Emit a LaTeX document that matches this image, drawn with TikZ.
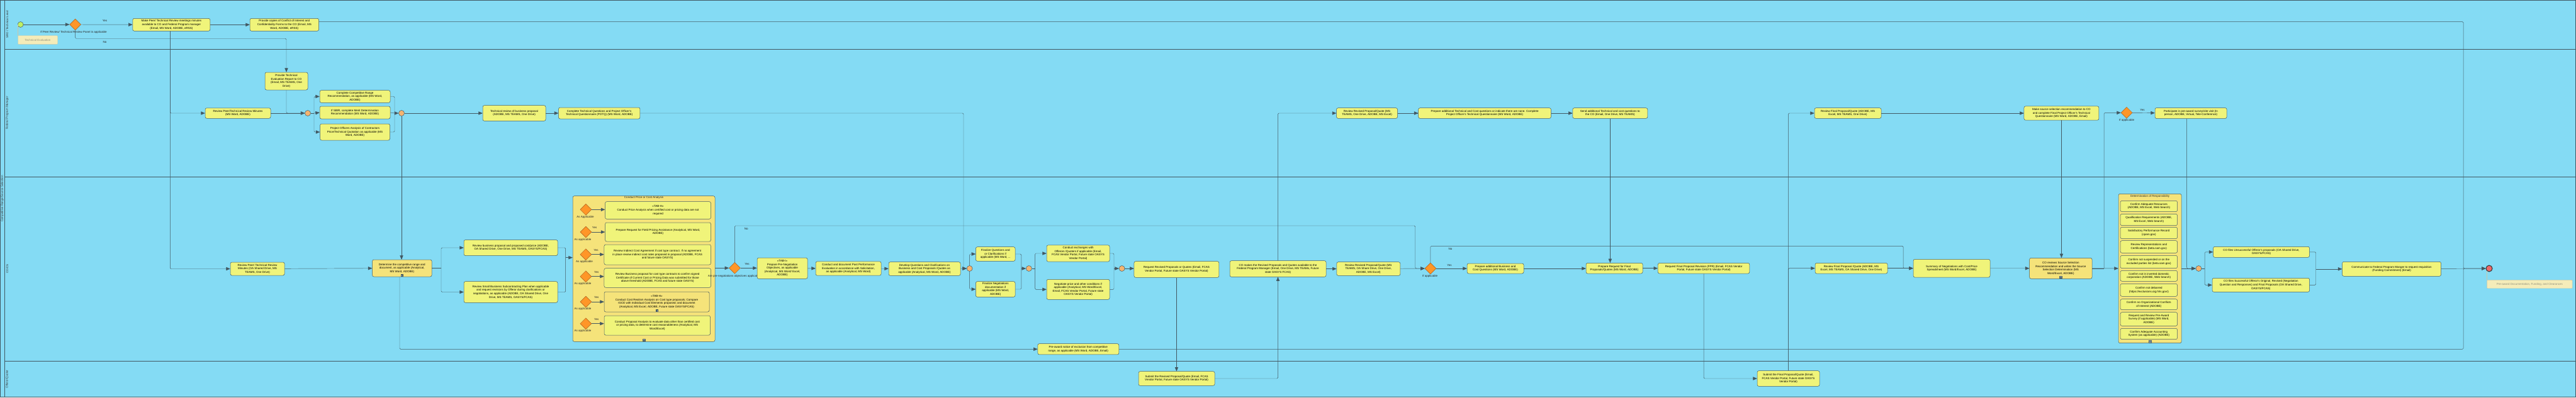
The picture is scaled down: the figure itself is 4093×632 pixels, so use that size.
\documentclass[tikz,border=0pt]{standalone}
\usepackage{fontspec}
\setmainfont{Liberation Sans}
\usetikzlibrary{arrows}
\usetikzlibrary{shapes.geometric}

\definecolor{lanebg}{RGB}{132,219,244}
\definecolor{edge}{RGB}{66,88,98}
\definecolor{taskfill}{RGB}{240,244,122}
\definecolor{subfill}{RGB}{245,227,122}
\definecolor{gatefill}{RGB}{255,150,40}
\definecolor{gateedge}{RGB}{170,95,30}
\definecolor{pgfill}{RGB}{245,180,112}
\definecolor{startfill}{RGB}{190,240,100}
\definecolor{endfill}{RGB}{240,105,105}
\definecolor{annfill}{RGB}{245,236,185}
\definecolor{annedge}{RGB}{200,200,170}
\definecolor{anntext}{RGB}{145,145,125}

\newcommand{\bpmnfont}{\fontsize{4.5}{5.6}\selectfont}

\tikzset{
  task/.style={draw=edge, line width=0.5pt, fill=taskfill, rounded corners=2.5pt, align=center, inner sep=0.5pt},
  subproc/.style={task, fill=subfill},
  sz/.style 2 args={minimum width=#1pt, minimum height=#2pt},
  xgate/.style={diamond, draw=gateedge, fill=gatefill, line width=0.5pt, minimum width=18pt, minimum height=18pt, inner sep=0pt},
  pgate/.style={circle, draw=edge, fill=pgfill, line width=0.5pt, minimum size=9pt, inner sep=0pt},
  startev/.style={circle, draw=edge, fill=startfill, line width=0.5pt, minimum size=9pt, inner sep=0pt},
  endev/.style={circle, draw=black!80, fill=endfill, line width=1pt, minimum size=10pt, inner sep=0pt},
  ann/.style={draw=annedge, fill=annfill, text=anntext, rounded corners=1pt, inner sep=0.5pt},
  lbl/.style={inner sep=0pt, text=black!85},
  lanelbl/.style={inner sep=0pt, rotate=90, text=black!80},
  spmark/.style={draw=edge, line width=0.3pt, fill=white, minimum size=3.6pt, inner sep=0pt, anchor=south, yshift=0.8pt,
    path picture={\draw[edge, line width=0.3pt] (path picture bounding box.north) -- (path picture bounding box.south)
      (path picture bounding box.west) -- (path picture bounding box.east);}},
  flow/.style={draw=edge, line width=0.45pt, -triangle 45, rounded corners=1.5pt},
  line/.style={draw=edge, line width=0.45pt, rounded corners=1.5pt}
}

\begin{document}
\begin{tikzpicture}[x=1pt, y=-1pt, font=\bpmnfont]

\useasboundingbox (0,0) rectangle (4093,632);

% Pool and lanes
\fill [lanebg] (0,0) rectangle (4093,632);
\draw [edge, line width=0.8pt] (0.4,0.4) rectangle (4092.6,631.6);
\draw [edge, line width=0.6pt] (7.6,0.4)--(7.6,631.6);
\draw [edge, line width=0.6pt] (7.6,78)--(4092.6,78);
\draw [edge, line width=0.6pt] (7.6,281)--(4092.6,281);
\draw [edge, line width=0.6pt] (7.6,574)--(4092.6,574);

\node [lanelbl] (lpool) at (3.8,316) {Competitive Range/Source Selection};
\node [lanelbl] (lsro) at (11.5,39) {SRO / Technical Lead};
\node [lanelbl] (lfpm) at (11.5,179.5) {Federal Program Manager};
\node [lanelbl] (lcocs) at (11.5,427.5) {CO/CS};
\node [lanelbl] (loff) at (11.5,603) {Offeror/Quoter};

% SRO / Technical Lead
\node [startev] (start) at (32.6,39) {};
\node [ann, sz={63}{13.6}] (evalnote) at (60,63.5) {Technical Evaluation};
\node [xgate] (gwpanel) at (119.6,39) {};
\node [lbl] (gwpanellbl) at (117,51) {If Peer Review/ Technical Review Panel is applicable};
\node [lbl] (yespanel) at (166.5,32.5) {Yes};
\node [lbl] (nopanel) at (166.5,67) {No};
\node [task, sz={123}{20}] (minutes) at (272.3,39.3) {Make Peer/ Technical Review meetings minutes\\available to CO and Federal Program manager\\(Email, MS Word, ADOBE, eRSS)};
\node [task, sz={109.5}{20}] (copies) at (451.8,39.3) {Provide copies of Conflict of Interest and\\Confidentiality Forms to the CO (Email, MS\\Word, ADOBE, eRSS)};

% Federal Program Manager
\node [task, sz={68}{28}] (evalrep) at (455,129) {Provide Technical\\Evaluation Report to CO\\(Email, MS TEAMS, One\\Drive)};
\node [task, sz={104}{16.5}] (revmin2) at (378,180) {Review Peer/Technical Review Minutes\\(MS Word, ADOBE)};
\node [pgate] (pg1) at (489,180) {};
\node [task, sz={112}{19.6}] (comprange) at (564,153.5) {Complete Competitive Range\\Recommendation, as applicable (MS Word,\\ADOBE)};
\node [task, sz={112}{20}] (sbir) at (564,179) {If SBIR, complete Merit Determination\\Recommendation (MS Word, ADOBE)};
\node [task, sz={111}{26}] (poanalysis) at (564,210) {Project Officers Analysis of Contractors\\Price/Technical Quotation as applicable (MS\\Word, ADOBE)};
\node [pgate] (pg2) at (638,180) {};
\node [task, sz={100}{24.6}] (techrev) at (817,180) {Technical review of business proposal\\(ADOBE, MS TEAMS, One Drive)};
\node [task, sz={129.5}{18}] (potq) at (952.2,180) {Complete Technical Questions and Project Officer's\\Technical Questionnaire (POTQ) (MS Word, ADOBE)};
\node [task, sz={97}{16.6}] (revrev2) at (2172,180) {Review Revised Proposal/Quote (MS\\TEAMS, One Drive, ADOBE, MS Excel)};
\node [task, sz={210.7}{16.6}] (addq2) at (2359,180) {Prepare additional Technical and Cost questions or indicate there are none. Complete\\Project Officer's Technical Questionnaire (MS Word, ADOBE)};
\node [task, sz={119}{16.6}] (sendq) at (2558.3,180) {Send additional Technical and cost questions to\\the CO (Email, One Drive, MS TEAMS)};
\node [task, sz={106}{16.6}] (revfin2) at (2936,180) {Review Final Proposal/Quote (ADOBE, MS\\Excel, MS TEAMS, One Drive)};
\node [task, sz={119}{22.3}] (ssrec) at (3275.4,180) {Make source selection recommendation to CO\\and complete Final Project Officer's Technical\\Questionnaire (MS Word, ADOBE, Email)};
\node [xgate] (gwsurvey) at (3379,179.3) {};
\node [lbl] (gwsurveylbl) at (3379,191.5) {If applicable};
\node [lbl] (yessurvey) at (3404,175) {Yes};
\node [task, sz={114}{17}] (survey) at (3481,180) {Participate in pre-award survey/site visit (In\\person, ADOBE, Virtual, Tele-Conference)};

% CO/CS
\node [task, sz={86}{21}] (revmin3) at (409,427.5) {Review Peer/ Technical Review\\Minutes (OA Shared Drive, MS\\TEAMS, One Drive)};
\node [subproc, sz={94.5}{27}] (detrange) at (638.8,426.5) {Determine the competitive range and\\document, as applicable (Analytical,\\MS Word, ADOBE)};
\node [spmark] (detrangem) at (detrange.south) {};
\node [task, sz={149}{25}] (revbus) at (811.5,394) {Review business proposal and proposed cost/price (ADOBE,\\OA Shared Drive, One Drive, MS TEAMS, OASYS/FCAS)};
\node [task, sz={149}{33.6}] (revsb) at (811.5,464.5) {Review Small Business Subcontracting Plan when applicable\\and request revisions by Offeror during clarifications or\\negotiations, as applicable (ADOBE, OA Shared Drive, One\\Drive, MS TEAMS, OASYS/FCAS)};

% Conduct Price or Cost Analysis
\node [subproc, sz={226}{231.6}] (pcost) at (1023,427.5) {};
\node [lbl, anchor=north] (pcosttitle) at ([yshift=-1pt]pcost.north) {Conduct Price or Cost Analysis};
\node [spmark] (pcostm) at (pcost.south) {};
\node [xgate] (pcgw1) at (930.8,333.3) {};
\node [xgate] (pcgw2) at (930.8,369) {};
\node [xgate] (pcgw3) at (930.8,404.7) {};
\node [xgate] (pcgw4) at (930.8,439.7) {};
\node [xgate] (pcgw5) at (930.8,480) {};
\node [xgate] (pcgw6) at (930.8,514.7) {};
\node [lbl] (pclbl1) at (930,345) {As Applicable};
\node [lbl] (pclbl2) at (926,381) {As applicable};
\node [lbl] (pclbl3) at (928.6,416.5) {As applicable};
\node [lbl] (pclbl4) at (926,451.3) {As applicable};
\node [lbl] (pclbl5) at (926,491.8) {As applicable};
\node [lbl] (pclbl6) at (926,526.8) {As applicable};
\node [lbl] (pcyes2) at (944.6,362) {Yes};
\node [lbl] (pcyes3) at (947,398) {Yes};
\node [lbl] (pcyes4) at (947.8,432.5) {Yes};
\node [lbl] (pcyes5) at (947.8,473) {Yes};
\node [lbl] (pcyes6) at (947.8,508) {Yes};
\node [task, sz={168}{27.6}] (pc1) at (1045.5,334.5) {<<TAB-H>>\\Conduct Price Analysis when certified cost or pricing data are not\\required};
\node [task, sz={168}{30}] (pc2) at (1045.5,369) {Prepare Request for Field Pricing Assistance (Analytical, MS Word,\\ADOBE)};
\node [task, sz={169.5}{32}] (pc3) at (1044.7,405) {Review Indirect Cost Agreement if cost type contract. If no agreement\\in place review indirect cost rates proposed in proposal (ADOBE, FCAS\\and future state OASYS)};
\node [task, sz={169.5}{30.6}] (pc4) at (1044.7,442) {Review Business proposal for cost type contracts to confirm signed\\Certificate of Current Cost or Pricing Data was submitted for those\\above threshold (ADOBE, FCAS and future state OASYS)};
\node [subproc, sz={167}{32}] (pc5) at (1043.5,480) {<<TAB-H>>\\Conduct Cost Realism Analysis on Cost type proposals; Compare\\IGCE with Individual Cost Elements proposed; and document\\(Analytical, MS Excel, ADOBE, Future state OASYS/FCAS)};
\node [spmark] (pc5m) at (pc5.south) {};
\node [task, sz={168.6}{31}] (pc6) at (1044.3,517.5) {Conduct Proposal Analysis to evaluate data other than certified cost\\or pricing data, to determine cost reasonableness (Analytical, MS\\Word/Excel)};

\node [xgate] (gwpreneg) at (1167.4,426.3) {};
\node [lbl] (gwprereglbl) at (1166.5,439) {Are pre-negotiations objectives applicable};
\node [lbl] (yespreneg) at (1187,420) {Yes};
\node [lbl] (nopreneg) at (1185.7,364) {No};
\node [task, sz={80}{33.3}] (preneg) at (1243,426.7) {<<TAB-I>>\\Prepare Pre-Negotiation\\Objectives, as applicable\\(Analytical, MS Word/ Excel,\\ADOBE)};
\node [task, sz={104}{22.3}] (pastperf) at (1348,427) {Conduct and document Past Performance\\Evaluation in accordance with Solicitation,\\as applicable (Analytical, MS Word)};
\node [task, sz={114}{21.6}] (devq) at (1469,427.5) {Develop Questions and Clarifications on\\Business and Cost Proposals /Quotes as\\applicable (Analytical, MS Word, ADOBE)};
\node [pgate] (pg3) at (1540.6,427) {};
\node [task, sz={62.6}{22.6}] (finq) at (1581.7,404) {Finalize Questions and\\or Clarifications if\\applicable (MS Word, ...};
\node [task, sz={62.6}{24.6}] (finneg) at (1581.7,460) {Finalize Negotiations\\documentation if\\applicable (MS Word,\\ADOBE)};
\node [pgate] (pg4) at (1634.8,427) {};
\node [task, sz={100}{26.3}] (exch) at (1713,403) {Conduct exchanges with\\Offerors /Quoters if applicable (Email,\\FCAS Vendor Portal, Future state OASYS\\Vendor Portal)};
\node [task, sz={100}{32}] (negot) at (1713,460.3) {Negotiate price and other conditions if\\applicable (Analytical, MS Word/Excel,\\Email, FCAS Vendor Portal, Future state\\OASYS Vendor Portal)};
\node [pgate] (pg5) at (1782.6,427) {};
\node [task, sz={135}{25.6}] (reqrev) at (1869.4,428.5) {Request Revised Proposals or Quotes (Email, FCAS\\Vendor Portal, Future state OASYS Vendor Portal)};
\node [task, sz={153}{25.6}] (comakes) at (2030.5,427.5) {CO makes the Revised Proposals and Quotes available to the\\Federal Program Manager (Email, One Drive, MS TEAMs, Future\\state OASYS FCAS)};
\node [task, sz={129}{17.3}] (preaward) at (1713.3,555.3) {Pre-award notice of exclusion from competitive\\range, as applicable (MS Word, ADOBE, Email)};
\node [task, sz={101}{21.6}] (revrev3) at (2174.3,427.5) {Review Revised Proposal/Quote (MS\\TEAMS, OA Share Drive, One Drive,\\ADOBE, MS Excel)};
\node [xgate] (gwaddq) at (2272.8,427) {};
\node [lbl] (gwaddqlbl) at (2272,439.5) {If applicable};
\node [lbl] (yesaddq) at (2303,422) {Yes};
\node [lbl] (noaddq) at (2304.5,396) {No};
\node [task, sz={90}{16}] (addbus) at (2376,427) {Prepare additional Business and\\Cost Questions (MS Word, ADOBE)};
\node [task, sz={90}{16.7}] (reqfin) at (2565,426.7) {Prepare Request for Final\\Proposals/Quotes (MS Word, ADOBE)};
\node [task, sz={145.6}{16.7}] (reqfpr) at (2707,426.7) {Request Final Proposal Revision (FPR) (Email, FCAS Vendor\\Portal, Future state OASYS Vendor Portal)};
\node [task, sz={115}{16.7}] (revfin3) at (2941.5,426.7) {Review Final Proposal /Quote (ADOBE, MS\\Excel, MS TEAMS, OA Shared Drive, One Drive)};
\node [task, sz={122}{28.7}] (summary) at (3101,426.7) {Summary of Negotiations with Cost/Price\\Spreadsheet (MS Word/Excel, ADOBE)};
\node [subproc, sz={99.4}{33}] (coreview) at (3274.3,426.8) {CO reviews Source Selection\\Recommendation and writes the Source\\Selection Determination (MS\\Word/Excel, ADOBE)};
\node [spmark] (coreviewm) at (coreview.south) {};

% Determination of Responsibility
\node [subproc, sz={100}{237.4}] (resp) at (3416,427) {};
\node [lbl, anchor=north] (resptitle) at ([yshift=-1.5pt]resp.north) {Determination of Responsibility};
\node [spmark] (respm) at (resp.south) {};
\node [task, sz={90.5}{17.4}] (resp1) at (3414.3,328) {Confirm Adequate Resources\\(ADOBE, MS Excel, Web Search)};
\node [task, sz={90.5}{18.4}] (resp2) at (3414.3,349.5) {Qualification Requirements (ADOBE,\\MS Excel, Web Search)};
\node [task, sz={90.5}{18.4}] (resp3) at (3414.3,370.5) {Satisfactory Performance Record\\(cpars.gov)};
\node [task, sz={90.5}{19.6}] (resp4) at (3414.3,392.5) {Review Representations and\\Certifications (beta.sam.gov)};
\node [task, sz={90.5}{20.4}] (resp5) at (3414.3,416.5) {Confirm not suspended or on the\\excluded parties list (beta.sam.gov)};
\node [task, sz={90.5}{17}] (resp6) at (3414.3,438.8) {Confirm not in inverted domestic\\corporation (ADOBE, Web Search)};
\node [task, sz={90.5}{20}] (resp7) at (3414.3,461.3) {Confirm not debarred\\(https://exclusions.oig.hhs.gov/)};
\node [task, sz={90.5}{17}] (resp8) at (3414.3,484.2) {Confirm no Organizational Conflicts\\of Interest (ADOBE)};
\node [task, sz={90.5}{21.6}] (resp9) at (3414.3,507.5) {Request and Review Pre-Award\\Survey (if applicable) (MS Word,\\ADOBE)};
\node [task, sz={90.5}{17.4}] (resp10) at (3414.3,531) {Confirm Adequate Accounting\\System (as applicable) (ADOBE)};

\node [pgate] (pg6) at (3493.4,427) {};
\node [task, sz={153}{17}] (unsucc) at (3593,400.8) {CO files Unsuccessful Offeror's proposals (OA Shared Drive,\\OASYS/FCAS)};
\node [task, sz={154.6}{22}] (succ) at (3592.3,453.3) {CO files Successful Offeror's Original, Revised (Negotiation\\Question and Responses) and Final Proposals (OA Shared Drive,\\OASYS/FCAS)};
\node [task, sz={157}{23}] (commun) at (3800,427.8) {Communicate to Federal Program Manger to request requisition\\(Funding Commitment) (Email)};
\node [endev] (end) at (3955,427) {};
\node [ann, sz={135.4}{13.4}] (closenote) at (4019.3,452) {Pre-award Documentation, Funding, and Clearances};

% Offeror/Quoter
\node [task, sz={121}{22.6}] (subrev) at (1869.5,602) {Submit the Revised Proposal/Quote (Email, FCAS\\Vendor Portal, Future state OASYS Vendor Portal)};
\node [task, sz={99}{24.6}] (subfin) at (2841.5,602) {Submit the Final Proposal/Quote (Email,\\FCAS Vendor Portal, Future state OASYS\\Vendor Portal)};

% junctions
\coordinate (jpg1) at (499,180);
\coordinate (jpg2) at (627,180);
\coordinate (jpotq) at (1531,427);
\coordinate (jrange) at (701,426.5);
\coordinate (jpcost) at (898.7,409.7);
\coordinate (jnopre) at (2248.7,359);
\coordinate (jfin) at (1622.8,427);
\coordinate (jexch) at (1644.6,427);
\coordinate (jneg) at (1770,427);
\coordinate (jnoaddq) at (3024,391.3);
\coordinate (jcoreview) at (3343,426.8);
\coordinate (jpg6) at (3503,427);
\coordinate (jfile) at (3679.7,427.8);
\coordinate (jend) at (3914,427);

% flows: SRO / Technical Lead
\draw [line, annedge] (start.west)--(start.west |- evalnote.north);
\draw [flow] (start)--(gwpanel);
\draw [flow] (gwpanel)--(minutes);
\draw [flow] (minutes)--(copies);
\draw [flow] (gwpanel.south)--++(0,13) -| (evalrep.north);
\draw [flow] ([yshift=4.7pt]copies.east) -| (jend)--(end);

% flows: Federal Program Manager
\draw [flow] ([xshift=-2pt]minutes.south) |- (revmin2.west);
\draw [flow] ([xshift=-2pt]minutes.south) |- (revmin3.west);
\draw [flow] (evalrep.south) |- (pg1.west);
\draw [flow] (revmin2)--(pg1);
\draw [line] (pg1)--(jpg1);
\draw [flow] (jpg1) |- (comprange.west);
\draw [flow] (jpg1)--(sbir.west);
\draw [flow] (jpg1) |- (poanalysis.west);
\draw [line] (comprange.east) -| (jpg2);
\draw [line] (poanalysis.east) -| (jpg2);
\draw [flow] (sbir.east)--(jpg2)--(pg2);
\draw [flow] (pg2)--(techrev);
\draw [flow] (pg2.south)--(pg2.south |- detrange.north);
\draw [flow] (techrev)--(potq);
\draw [flow] (potq.east) -| (jpotq)--(pg3.west);
\draw [flow] (revrev2)--(addq2);
\draw [flow] (addq2)--(sendq);
\draw [flow] (sendq.south)--(sendq.south |- reqfin.north);
\draw [flow] (revfin2)--(ssrec);
\draw [flow] (ssrec.south)--(ssrec.south |- coreview.north);
\draw [flow] (gwsurvey)--(survey);
\draw [flow] ([xshift=-6.4pt]survey.south) |- (pg6.west);

% flows: CO/CS
\draw [flow] (revmin3)--(detrange);
\draw [line] (detrange.east)--(jrange);
\draw [flow] (jrange) |- (revbus.west);
\draw [flow] (jrange) |- (revsb.west);
\draw [line] (revbus.east) -| (jpcost);
\draw [line] (revsb.east) -| (jpcost);
\draw [flow] (jpcost)--(jpcost -| pcost.west);
\draw [flow] ([xshift=-3.8pt]detrange.south) |- (preaward.west);
\draw [flow] (preaward.east) -| (jend)--(end);
\draw [flow] (pcgw1)--(pcgw1 -| pc1.west);
\draw [flow] (pcgw2)--(pcgw2 -| pc2.west);
\draw [flow] (pcgw3)--(pcgw3 -| pc3.west);
\draw [flow] (pcgw4)--(pcgw4 -| pc4.west);
\draw [flow] (pcgw5)--(pcgw5 -| pc5.west);
\draw [flow] (pcgw6)--(pcgw6 -| pc6.west);
\draw [flow] (pcost.east |- gwpreneg)--(gwpreneg);
\draw [flow] (gwpreneg)--(gwpreneg -| preneg.west);
\draw [flow] (gwpreneg.north) |- (jnopre) |- (gwaddq.west);
\draw [flow] (preneg)--(pastperf);
\draw [flow] (pastperf)--(devq);
\draw [flow] (devq)--(pg3);
\draw [flow] (pg3.north) |- (finq.west);
\draw [flow] (pg3.south) |- (finneg.west);
\draw [line] (finq.east) -| (jfin);
\draw [line] (finneg.east) -| (jfin);
\draw [flow] (jfin)--(pg4);
\draw [line] (pg4)--(jexch);
\draw [flow] (jexch) |- (exch.west);
\draw [flow] (jexch) |- (negot.west);
\draw [line] (exch.east) -| (jneg);
\draw [line] (negot.east) -| (jneg);
\draw [flow] (jneg)--(pg5);
\draw [flow] (pg5)--(pg5 -| reqrev.west);
\draw [flow] (reqrev.south)--(reqrev.south |- subrev.north);
\draw [flow] (comakes.north) |- (revrev2.west);
\draw [flow] (comakes)--(comakes -| revrev3.west);
\draw [flow] (revrev3)--(gwaddq);
\draw [flow] (gwaddq)--(addbus);
\draw [flow] (addbus)--(addbus -| reqfin.west);
\draw [flow] (reqfin)--(reqfpr);
\draw [flow] (gwaddq.north) |- (jnoaddq) |- (summary.west);
\draw [flow] (reqfpr.south) |- (subfin.west);
\draw [flow] (revfin3)--(summary);
\draw [flow] (summary)--(coreview);
\draw [line] (coreview.east)--(jcoreview);
\draw [flow] (jcoreview) |- (gwsurvey.west);
\draw [flow] (coreview)--(resp);
\draw [flow] (resp.east |- pg6)--(pg6);
\draw [line] (pg6)--(jpg6);
\draw [flow] (jpg6) |- (unsucc.west);
\draw [flow] (jpg6) |- (succ.west);
\draw [line] (unsucc.east) -| (jfile);
\draw [line] (succ.east) -| (jfile);
\draw [flow] (jfile)--(commun.west);
\draw [flow] (commun)--(end);
\draw [line, annedge] (end.south west)--(end.south west |- closenote.north);

% flows: Offeror/Quoter
\draw [flow] (subrev.east) -| (comakes.south);
\draw [flow] (subfin.north) |- (revfin2.west);
\draw [flow] (subfin.north) |- (revfin3.west);

\end{tikzpicture}
\end{document}
